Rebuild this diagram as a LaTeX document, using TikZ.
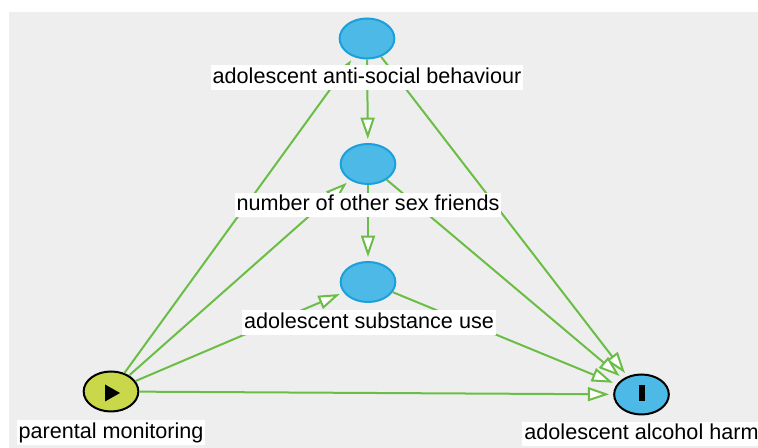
\documentclass[tikz,border=0pt]{standalone}
\usepackage{fontspec}
\setmainfont{Liberation Sans}
\usetikzlibrary{arrows.meta,shapes.geometric}
\definecolor{bgcol}{HTML}{EEEEEE}
\definecolor{edgegreen}{RGB}{106,190,70}
\definecolor{nodeblue}{RGB}{76,185,230}
\definecolor{nodeborder}{RGB}{26,160,220}
\definecolor{expfill}{RGB}{200,216,74}
\begin{document}
\begin{tikzpicture}[x=0.75pt,y=-0.75pt,
  varnode/.style={ellipse, draw=nodeborder, fill=nodeblue, line width=1.5pt,
    minimum width=41pt, minimum height=30pt, inner sep=0pt},
  expnode/.style={varnode, draw=black, fill=expfill},
  outnode/.style={varnode, draw=black, fill=nodeblue},
  lbl/.style={fill=white, font=\fontsize{16.2}{19}\selectfont, inner sep=1.5pt,
    text height=12pt, text depth=3.5pt},
  causal/.style={draw=edgegreen, line width=1.5pt,
    -{Triangle[length=16pt,width=10.5pt,fill=white]}, shorten >=3pt}]
\useasboundingbox (0,0) rectangle (758,448);
\fill[bgcol] (9,12) rectangle (758,448);
% nodes
\node[varnode] (A) at (367,38.5) {};
\node[varnode] (S) at (368,164) {};
\node[varnode] (U) at (368,282) {};
\node[expnode] (P) at (111,391.5) {};
\node[outnode] (H) at (641.5,394.5) {};
% icons
\fill[black, shift={(P.center)}] (-6,-7) -- (9,1.5) -- (-6,10) -- cycle;
\fill[black, shift={(H.center)}] (-3,-9) rectangle (3,7);
% edges
\draw[causal] (P) -- (A);
\draw[causal] (P) -- (S);
\draw[causal] (P) -- (U);
\draw[causal] (P) -- (H);
\draw[causal] (A) -- (S);
\draw[causal] (A) -- (H);
\draw[causal] (S) -- (U);
\draw[causal] (S) -- (H);
\draw[causal] (U) -- (H);
% labels
\node[lbl] (LA) at (367,77.5) {adolescent anti-social behaviour};
\node[lbl] (LS) at (368,205) {number of other sex friends};
\node[lbl] (LU) at (369,322.5) {adolescent substance use};
\node[lbl] (LP) at (111,432.5) {parental monitoring};
\node[lbl] (LH) at (641.5,434) {adolescent alcohol harm};
\end{tikzpicture}
\end{document}
